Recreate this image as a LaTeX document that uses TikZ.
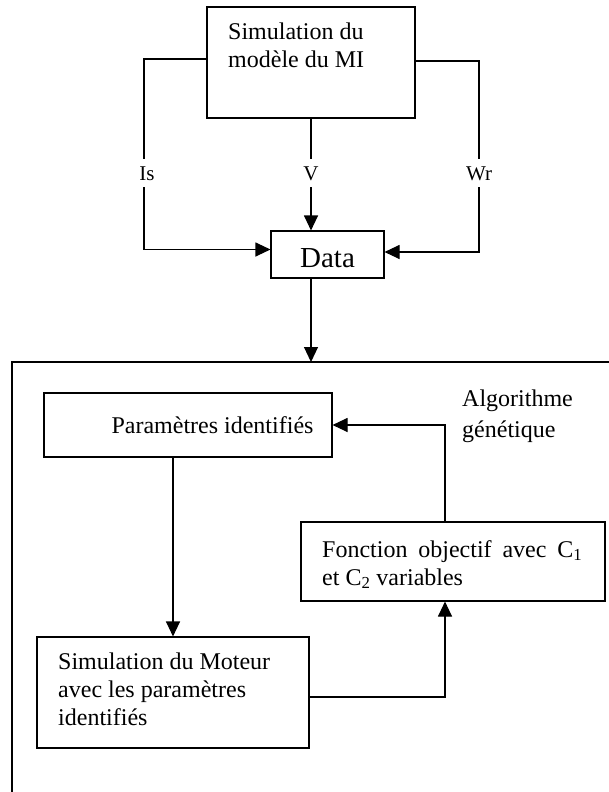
\documentclass[tikz,border=0pt]{standalone}
\usepackage{fontspec}
\setmainfont{Liberation Serif}
\usetikzlibrary{arrows.meta,calc}
\begin{document}
\begin{tikzpicture}[x=1pt,y=-1pt,
  box/.style={draw,line width=1.1pt,inner sep=0pt},
  txt/.style={font=\fontsize{24}{28}\selectfont,inner sep=0pt,align=left},
  lab/.style={font=\fontsize{21}{24}\selectfont,fill=white,inner sep=7pt,
              text height=14pt,text depth=0pt,anchor=base},
  wire/.style={line width=1.1pt},
  arr/.style={-{Triangle[length=15pt,width=14pt]}}]
\useasboundingbox (0,0) rectangle (609,792);

% upper part: motor model and measured data
% (multi-line texts are placed by the baseline of their last line)
\node[box,minimum width=208pt,minimum height=111pt] (mi) at (311,62.5) {};
\node[txt,anchor=base west] (mitxt) at (228,67) {Simulation du\\modèle du MI};
\node[box,minimum width=113pt,minimum height=47pt] (data) at (327.5,254.5) {};
\node[font=\fontsize{29}{32}\selectfont,inner sep=0pt,anchor=base] (datatxt) at (327.5,267) {Data};

\node[lab] (is) at (147,180) {Is};
\node[lab] (v) at (311,180) {V};
\node[lab] (wr) at (479,180) {Wr};
\coordinate (isx) at (144,180);
\coordinate (wrx) at (479,180);

\draw[wire] ([yshift=3.5pt]mi.west) -| (isx |- is.north);
\draw[wire,arr] (isx |- is.south) |- ([yshift=5pt]data.west);
\draw[wire] (mi.south) -- (v.north);
\draw[wire,arr] (v.south) -- (v.south |- data.north);
\draw[wire] ([yshift=1.5pt]mi.east) -| (wrx |- wr.north);
\draw[wire,arr] (wrx |- wr.south) |- ([yshift=2.5pt]data.east);

% frame of the genetic algorithm
\coordinate (ftl) at (12,362);
\coordinate (ftr) at (620,362);
\coordinate (fbl) at (12,800);
\draw[wire] (ftr) -- (ftl) -- (fbl);
\draw[wire,arr] (mi.south |- data.south) -- (mi.south |- ftl);

% identification loop
\node[box,minimum width=288pt,minimum height=64pt] (par) at (188,425) {};
\node[txt] (partxt) at (212.5,425) {Paramètres identifiés};
\node[txt,anchor=base west,font=\fontsize{24}{31}\selectfont] (ag) at (462,437) {Algorithme\\génétique};
\node[box,minimum width=304pt,minimum height=79pt] (fo) at (453,561.5) {};
\node[txt,anchor=base west] (fotxt) at (322,585)
  {\makebox[260pt][s]{Fonction objectif avec C\textsubscript{1}}\\et C\textsubscript{2} variables};
\node[box,minimum width=272pt,minimum height=111pt] (sim) at (173,692.5) {};
\node[txt,anchor=base west] (simtxt) at (58,725) {Simulation du Moteur\\avec les paramètres\\identifiés};

\coordinate (lpx) at (445,500);
\draw[wire,arr] (par.south -| sim.north) -- (sim.north);
\draw[wire,arr] ([yshift=-4.5pt]sim.east) -| (lpx |- fo.south);
\draw[wire,arr] (lpx |- fo.north) |- (par.east);
\end{tikzpicture}
\end{document}
